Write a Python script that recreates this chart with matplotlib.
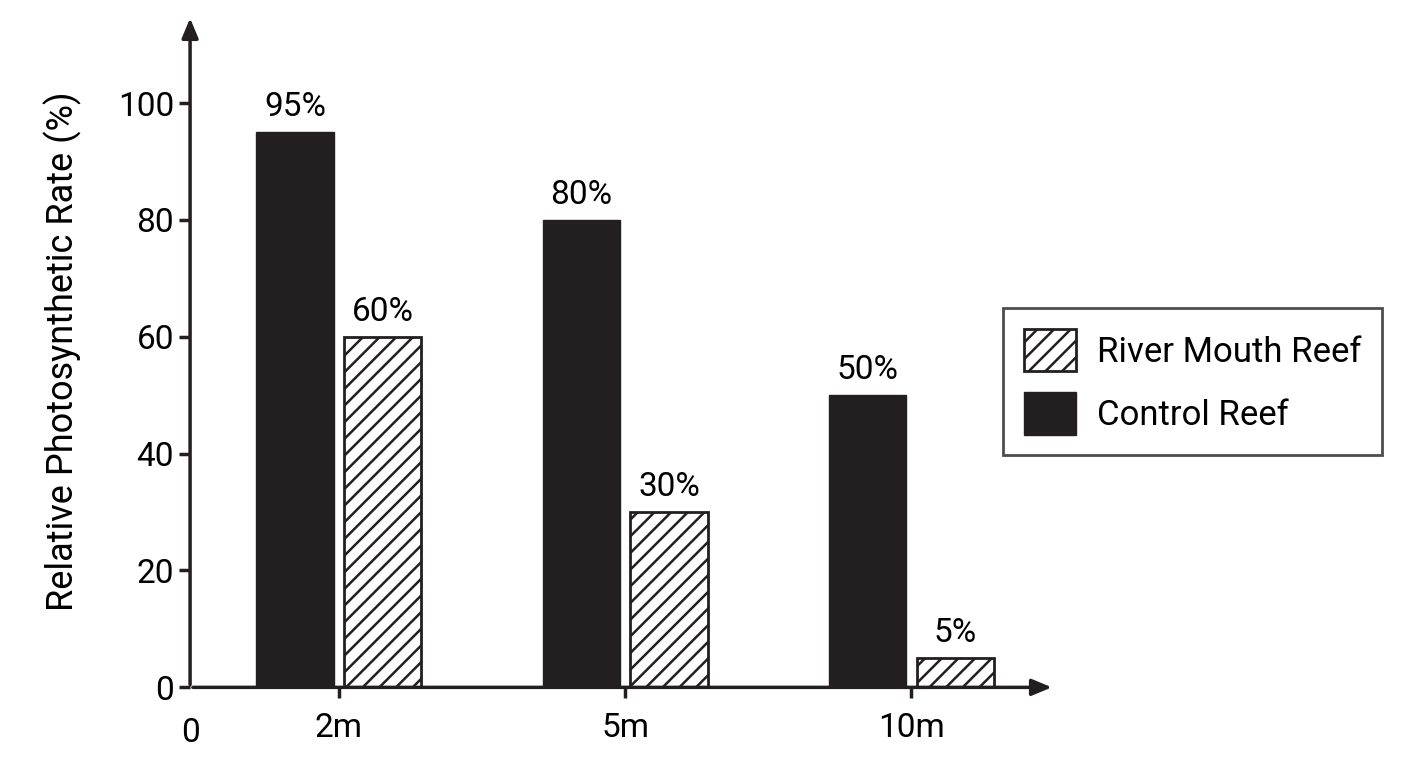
import numpy as np
import matplotlib.pyplot as plt

plt.rcParams['font.family'] = ['Roboto', 'DejaVu Sans']
plt.rcParams['hatch.linewidth'] = 1.8

depths = ['2m', '5m', '10m']
control = [95, 80, 50]
river = [60, 30, 5]

fig = plt.figure(figsize=(14.08, 7.68), dpi=100)
ax = fig.add_axes([0.135, 0.105, 0.614, 0.875])

x = np.arange(len(depths))
w = 0.27
off = 0.153
b1 = ax.bar(x - off, control, w, color='#231f20', edgecolor='#231f20', label='Control Reef')
b2 = ax.bar(x + off, river, w, color='white', edgecolor='#231f20', hatch='//', linewidth=2, label='River Mouth Reef')

for bars, vals in [(b1, control), (b2, river)]:
    for r, v in zip(bars, vals):
        ax.text(r.get_x() + r.get_width() / 2, v + 1.5, f'{v}%', ha='center', va='bottom', fontsize=24)

ax.set_xlim(-0.52, 2.5)
ax.set_ylim(0, 115)
for s in ax.spines.values():
    s.set_visible(False)
ax.annotate('', xy=(0, 1.0), xytext=(0, 0), xycoords='axes fraction',
            arrowprops=dict(arrowstyle='-|>,head_width=0.5,head_length=1.2', color='#231f20', lw=2.5))
ax.annotate('', xy=(1.0, 0), xytext=(0, 0), xycoords='axes fraction',
            arrowprops=dict(arrowstyle='-|>,head_width=0.5,head_length=1.2', color='#231f20', lw=2.5))

ax.set_yticks([0, 20, 40, 60, 80, 100])
ax.set_xticks(x)
ax.set_xticklabels(depths)
ax.tick_params(axis='both', labelsize=24, width=2.5, length=8, color='#231f20')
ax.tick_params(axis='x', pad=10)
ax.set_ylabel('Relative Photosynthetic Rate (%)', fontsize=26, labelpad=26)
ax.text(-0.52, -5.0, '0', ha='center', va='top', fontsize=24)

handles = [b2, b1]
leg = ax.legend(handles, ['River Mouth Reef', 'Control Reef'], loc='upper left',
                bbox_to_anchor=(0.92, 0.59), fontsize=25, frameon=True, fancybox=False,
                edgecolor='#231f20', handlelength=1.5, handleheight=1.5, borderpad=0.6,
                labelspacing=0.6, handletextpad=0.6)
leg.get_frame().set_linewidth(2)

fig.savefig('out.png', dpi=100)
